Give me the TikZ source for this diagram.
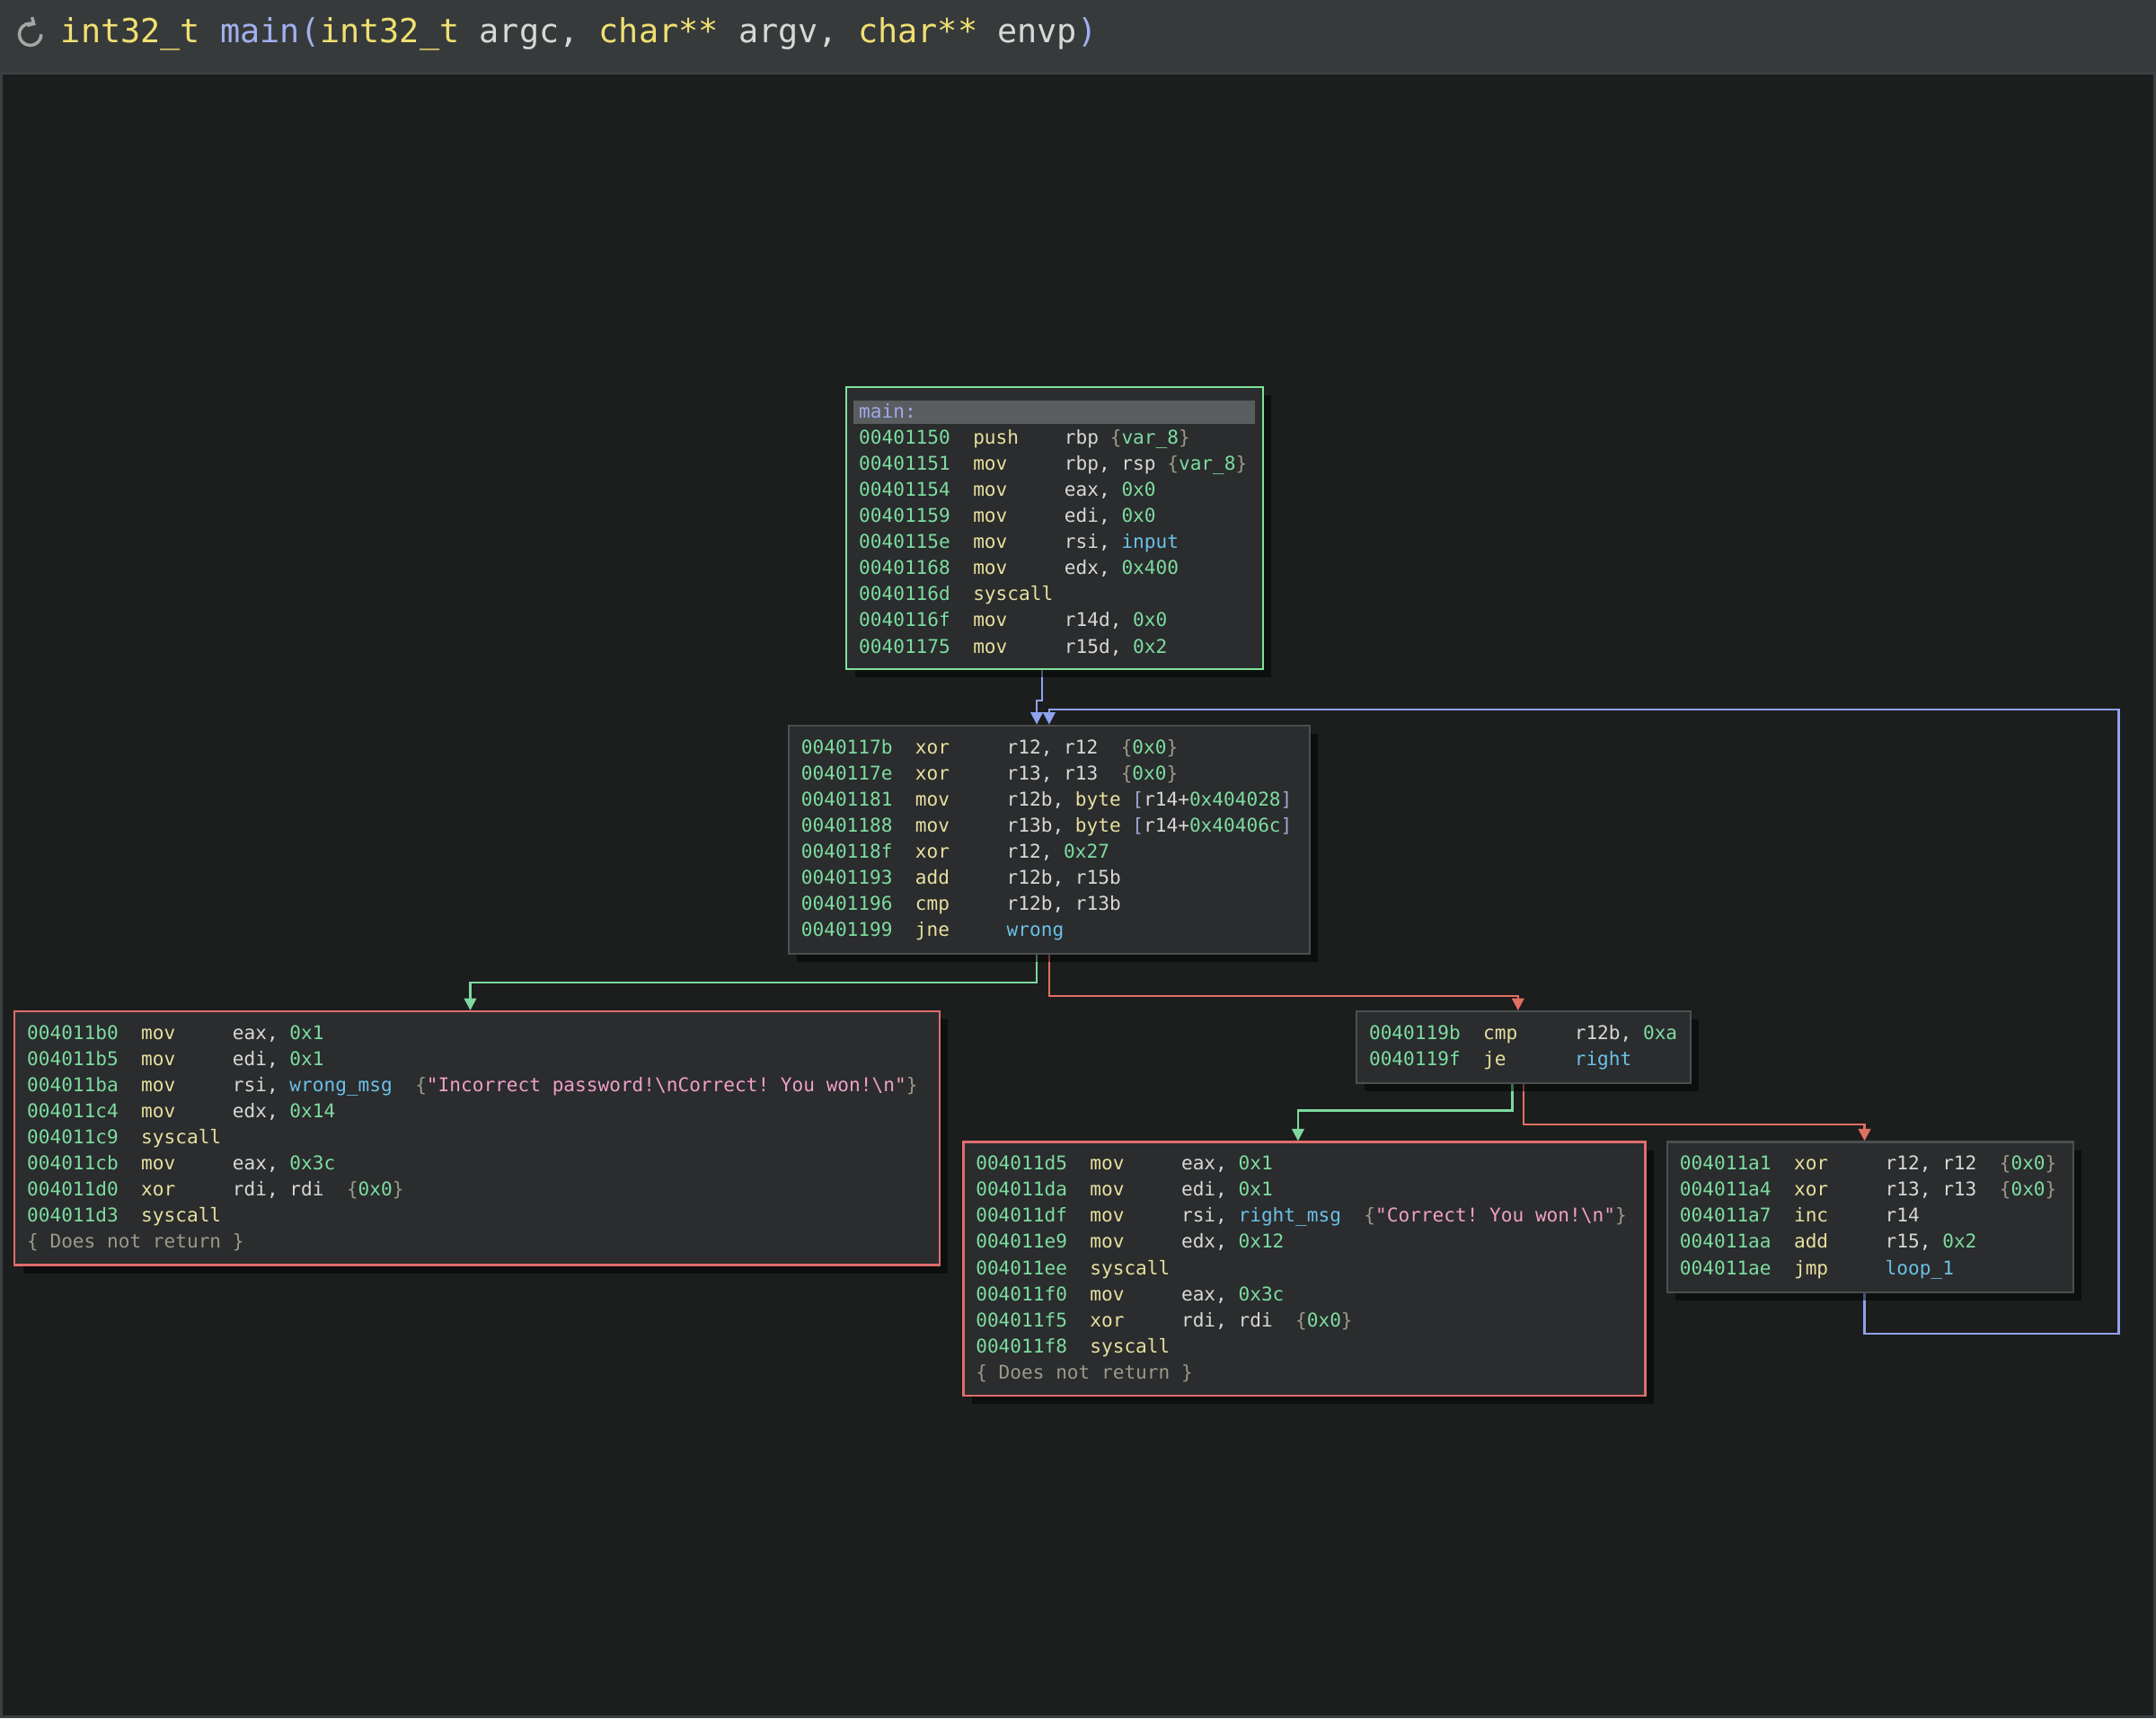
\documentclass[tikz,border=0pt]{standalone}
\usepackage{fontspec}
\setmonofont{DejaVu Sans Mono}
\usepackage{tikz}
\usetikzlibrary{calc,arrows.meta,shadows}
\pgfdeclarelayer{bg}
\pgfsetlayers{bg,main}

\definecolor{canvas}{HTML}{1C1D1D}
\definecolor{topbar}{HTML}{373A3B}
\definecolor{frame}{HTML}{3C3F41}
\definecolor{blockfill}{HTML}{2A2C2D}
\definecolor{blockgray}{HTML}{4C4F51}
\definecolor{bgreen}{HTML}{7EE29A}
\definecolor{bred}{HTML}{E06C6C}
\definecolor{adr}{HTML}{7DDCA0}
\definecolor{mnc}{HTML}{E8E0A0}
\definecolor{reg}{HTML}{D8D8D8}
\definecolor{num}{HTML}{7DDCA0}
\definecolor{sym}{HTML}{6CC0E8}
\definecolor{str}{HTML}{F0A0C8}
\definecolor{brc}{HTML}{9A9A8A}
\definecolor{brk}{HTML}{A0A8D8}
\definecolor{hdr}{HTML}{5A5D60}
\definecolor{hdrtext}{HTML}{A0A8E8}
\definecolor{tyellow}{HTML}{F0E070}
\definecolor{tblue}{HTML}{A0B0F0}
\definecolor{eblue}{HTML}{8FA3EE}
\definecolor{egreen}{HTML}{7ED8A0}
\definecolor{ered}{HTML}{E07060}

\newlength\cw
\setlength\cw{4.726pt}
\newcommand\monosp{\spaceskip=\cw\relax\xspaceskip=\cw\relax}
\newcommand\I[3]{\textcolor{adr}{#1}\hspace{2\cw}\makebox[8\cw][l]{\textcolor{mnc}{#2}}#3}
\newcommand\N[1]{\textcolor{num}{#1}}
\newcommand\Sy[1]{\textcolor{sym}{#1}}
\newcommand\Bc[1]{\textcolor{brc}{\{}\textcolor{num}{#1}\textcolor{brc}{\}}}
\newcommand\Str[1]{\textcolor{brc}{\{}\textcolor{str}{#1}\textcolor{brc}{\}}}
\newcommand\Bk[1]{\textcolor{brk}{[}#1\textcolor{brk}{]}}
\newcommand\By{\textcolor{mnc}{byte}}
\newcommand\Nr{\textcolor{brc}{\{ Does not return \}}}

\tikzset{
  block/.style={draw=blockgray, line width=0.8pt, fill=blockfill, anchor=north west,
    inner xsep=0.18cm, inner ysep=0.2cm, align=left, text=reg,
    font=\ttfamily\fontsize{7.85}{10.8}\selectfont,
    execute at begin node=\monosp,
    drop shadow={shadow xshift=0.12cm, shadow yshift=-0.12cm, fill=black, opacity=0.5}},
  edge/.style={line width=0.9pt, -{Triangle[width=5pt,length=5pt]}},
}

\begin{document}
\begin{tikzpicture}[x=0.02cm, y=-0.02cm]
        \useasboundingbox (0,0) rectangle (1568,1250);
        \begin{pgfonlayer}{bg}
                % window
                \fill[canvas] (0,0) rectangle (1568,1250);
                \fill[topbar] (0,0) rectangle (1568,52);
                \draw[frame, line width=1.2pt] (1,53) rectangle (1567,1249);
        \end{pgfonlayer}
        \draw[gray!70, line width=1.3pt, -{Straight Barb[length=2pt]}] (30,25) arc (0:300:8);
        \node (title) [anchor=west, inner sep=0pt, font=\ttfamily\fontsize{13.7}{16}\selectfont, text=reg]
                at (44,25) {\textcolor{tyellow}{int32\_t} \textcolor{tblue}{main(}\textcolor{tyellow}{int32\_t} argc, \textcolor{tyellow}{char**} argv, \textcolor{tyellow}{char**} envp\textcolor{tblue}{)}};

        % blocks
        \node (main) [block, draw=bgreen, text width=5.7cm] at (615,281) {%
                \hspace*{-0.08cm}\rlap{\textcolor{hdr}{\rule[-0.09cm]{5.84cm}{0.34cm}}}\hspace*{0.08cm}\textcolor{hdrtext}{main:}\\
                \I{00401150}{push}{rbp \Bc{var\_8}}\\
                \I{00401151}{mov}{rbp, rsp \Bc{var\_8}}\\
                \I{00401154}{mov}{eax, \N{0x0}}\\
                \I{00401159}{mov}{edi, \N{0x0}}\\
                \I{0040115e}{mov}{rsi, \Sy{input}}\\
                \I{00401168}{mov}{edx, \N{0x400}}\\
                \I{0040116d}{syscall}{}\\
                \I{0040116f}{mov}{r14d, \N{0x0}}\\
                \I{00401175}{mov}{r15d, \N{0x2}}};
        \node (loop) [block, text width=7.22cm] at (573,527) {%
                \I{0040117b}{xor}{r12, r12\ \ \Bc{0x0}}\\
                \I{0040117e}{xor}{r13, r13\ \ \Bc{0x0}}\\
                \I{00401181}{mov}{r12b, \By{} \Bk{r14+\N{0x404028}}}\\
                \I{00401188}{mov}{r13b, \By{} \Bk{r14+\N{0x40406c}}}\\
                \I{0040118f}{xor}{r12, \N{0x27}}\\
                \I{00401193}{add}{r12b, r15b}\\
                \I{00401196}{cmp}{r12b, r13b}\\
                \I{00401199}{jne}{\Sy{wrong}}};
        \node (wrong) [block, draw=bred, text width=13.1cm] at (10,735) {%
                \I{004011b0}{mov}{eax, \N{0x1}}\\
                \I{004011b5}{mov}{edi, \N{0x1}}\\
                \I{004011ba}{mov}{rsi, \Sy{wrong\_msg}\ \ \Str{"Incorrect password!\textbackslash nCorrect! You won!\textbackslash n"}}\\
                \I{004011c4}{mov}{edx, \N{0x14}}\\
                \I{004011c9}{syscall}{}\\
                \I{004011cb}{mov}{eax, \N{0x3c}}\\
                \I{004011d0}{xor}{rdi, rdi\ \ \Bc{0x0}}\\
                \I{004011d3}{syscall}{}\\
                \Nr};
        \node (cmp) [block, text width=4.5cm] at (986,735) {%
                \I{0040119b}{cmp}{r12b, \N{0xa}}\\
                \I{0040119f}{je}{\Sy{right}}};
        \node (right) [block, draw=bred, text width=9.56cm] at (700,830) {%
                \I{004011d5}{mov}{eax, \N{0x1}}\\
                \I{004011da}{mov}{edi, \N{0x1}}\\
                \I{004011df}{mov}{rsi, \Sy{right\_msg}\ \ \Str{"Correct! You won!\textbackslash n"}}\\
                \I{004011e9}{mov}{edx, \N{0x12}}\\
                \I{004011ee}{syscall}{}\\
                \I{004011f0}{mov}{eax, \N{0x3c}}\\
                \I{004011f5}{xor}{rdi, rdi\ \ \Bc{0x0}}\\
                \I{004011f8}{syscall}{}\\
                \Nr};
        \node (next) [block, text width=5.54cm] at (1212,830) {%
                \I{004011a1}{xor}{r12, r12\ \ \Bc{0x0}}\\
                \I{004011a4}{xor}{r13, r13\ \ \Bc{0x0}}\\
                \I{004011a7}{inc}{r14}\\
                \I{004011aa}{add}{r15, \N{0x2}}\\
                \I{004011ae}{jmp}{\Sy{loop\_1}}};

        \begin{pgfonlayer}{bg}
                \draw[edge, eblue] ($(main.south west)+(143,0)$) -- ++(0,22) -| ($(loop.north west)+(181,0)$);
                \draw[edge, eblue] ($(next.south west)+(144,0)$) -- ++(0,29) -- ++(185,0) |- ($(loop.north west)+(190,-11)$) -- ($(loop.north west)+(190,0)$);
                \draw[edge, egreen] ($(loop.south west)+(181,0)$) -- ++(0,20) -| ($(wrong.north west)+(332,0)$);
                \draw[edge, ered] ($(loop.south west)+(190,0)$) -- ++(0,30) -| ($(cmp.north west)+(118,0)$);
                \draw[edge, egreen] ($(cmp.south west)+(114,0)$) -- ++(0,19) -| ($(right.north west)+(244,0)$);
                \draw[edge, ered] ($(cmp.south west)+(122,0)$) -- ++(0,29) -| ($(next.north west)+(144,0)$);
        \end{pgfonlayer}
\end{tikzpicture}
\end{document}
